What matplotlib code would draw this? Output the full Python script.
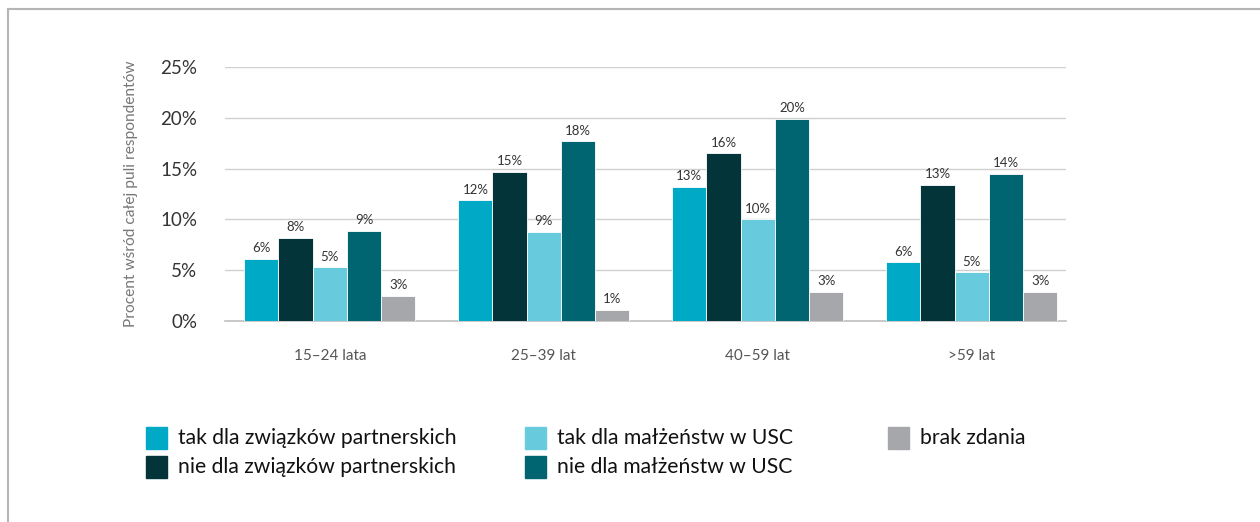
import matplotlib
matplotlib.use("Agg")
import matplotlib.pyplot as plt
from matplotlib.lines import Line2D
import numpy as np

plt.rcParams['font.family'] = ['Lato', 'DejaVu Sans']

categories = ["15\u201324 lata", "25\u201339 lat", "40\u201359 lat", ">59 lat"]
series_names = ["tak dla związków partnerskich", "nie dla związków partnerskich",
                "tak dla małżeństw w USC", "nie dla małżeństw w USC", "brak zdania"]
tak_zwiazki = [6.1, 11.9, 13.2, 5.8]
nie_zwiazki = [8.2, 14.7, 16.5, 13.4]
tak_malzenstwa = [5.3, 8.8, 10.0, 4.8]
nie_malzenstwa = [8.9, 17.7, 19.9, 14.5]
brak_zdania = [2.5, 1.1, 2.9, 2.9]
value_labels = [
    ["6%", "12%", "13%", "6%"],
    ["8%", "15%", "16%", "13%"],
    ["5%", "9%", "10%", "5%"],
    ["9%", "18%", "20%", "14%"],
    ["3%", "1%", "3%", "3%"],
]
yticks = [0, 5, 10, 15, 20, 25]
ytick_labels = ["0%", "5%", "10%", "15%", "20%", "25%"]

series = [tak_zwiazki, nie_zwiazki, tak_malzenstwa, nie_malzenstwa, brak_zdania]
colors = ["#00aac6", "#02343a", "#68cbdd", "#006471", "#a6a7aa"]

fig = plt.figure(figsize=(12.6, 5.22), dpi=100)
ax = fig.add_axes([225/1260, 1 - 321/522, (1066-225)/1260, (321-67)/522])

x = np.arange(len(categories))
w = 0.16
for i, (vals, c) in enumerate(zip(series, colors)):
    pos = x + (i - 2) * w
    bars = ax.bar(pos, vals, width=w, color=c, edgecolor="white", linewidth=0.6, zorder=3)
    for b, lab in zip(bars, value_labels[i]):
        ax.text(b.get_x() + b.get_width()/2, b.get_height() + 0.45, lab,
                ha="center", va="bottom", fontsize=9.5, color="#333333")

ax.set_xlim(-0.49, 3.44)
ax.set_ylim(0, 25)
ax.set_yticks(yticks)
ax.set_yticklabels(ytick_labels, fontsize=13.5, color="#333333")
ax.set_xticks(x)
ax.set_xticklabels(categories, fontsize=11, color="#555555")
ax.tick_params(axis="both", length=0)
ax.tick_params(axis="y", pad=20)
ax.tick_params(axis="x", pad=20)
ax.grid(axis="y", color="#d0d0d0", linewidth=1, zorder=0)
for s in ["top", "right", "left"]:
    ax.spines[s].set_visible(False)
ax.spines["bottom"].set_color("#c0c0c0")
ax.spines["bottom"].set_linewidth(1.2)
ax.set_ylabel("Procent wśród całej puli respondentów", fontsize=11.2, color="#777777")
ax.yaxis.set_label_coords(-0.103, 0.5)

# legend
leg_pos = [(146, 438), (146, 467), (525, 438), (525, 467), (888, 438)]
for (px, py), name, c in zip(leg_pos, series_names, colors):
    fig.patches.append(plt.Rectangle((px/1260, 1 - (py+11)/522), 21/1260, 22/522,
                                     transform=fig.transFigure, color=c, figure=fig))
    fig.text((px + 32)/1260, 1 - py/522, name, fontsize=15.2, color="#111111",
             va="center", ha="left")

# border
fig.add_artist(Line2D([7.5/1260, 1], [1 - 8.5/522, 1 - 8.5/522], transform=fig.transFigure,
                      color="#b5b5b5", linewidth=1.5))
fig.add_artist(Line2D([7.5/1260, 7.5/1260], [0, 1 - 8.5/522], transform=fig.transFigure,
                      color="#b5b5b5", linewidth=1.5))

fig.savefig("out.png", dpi=100, facecolor="white")
